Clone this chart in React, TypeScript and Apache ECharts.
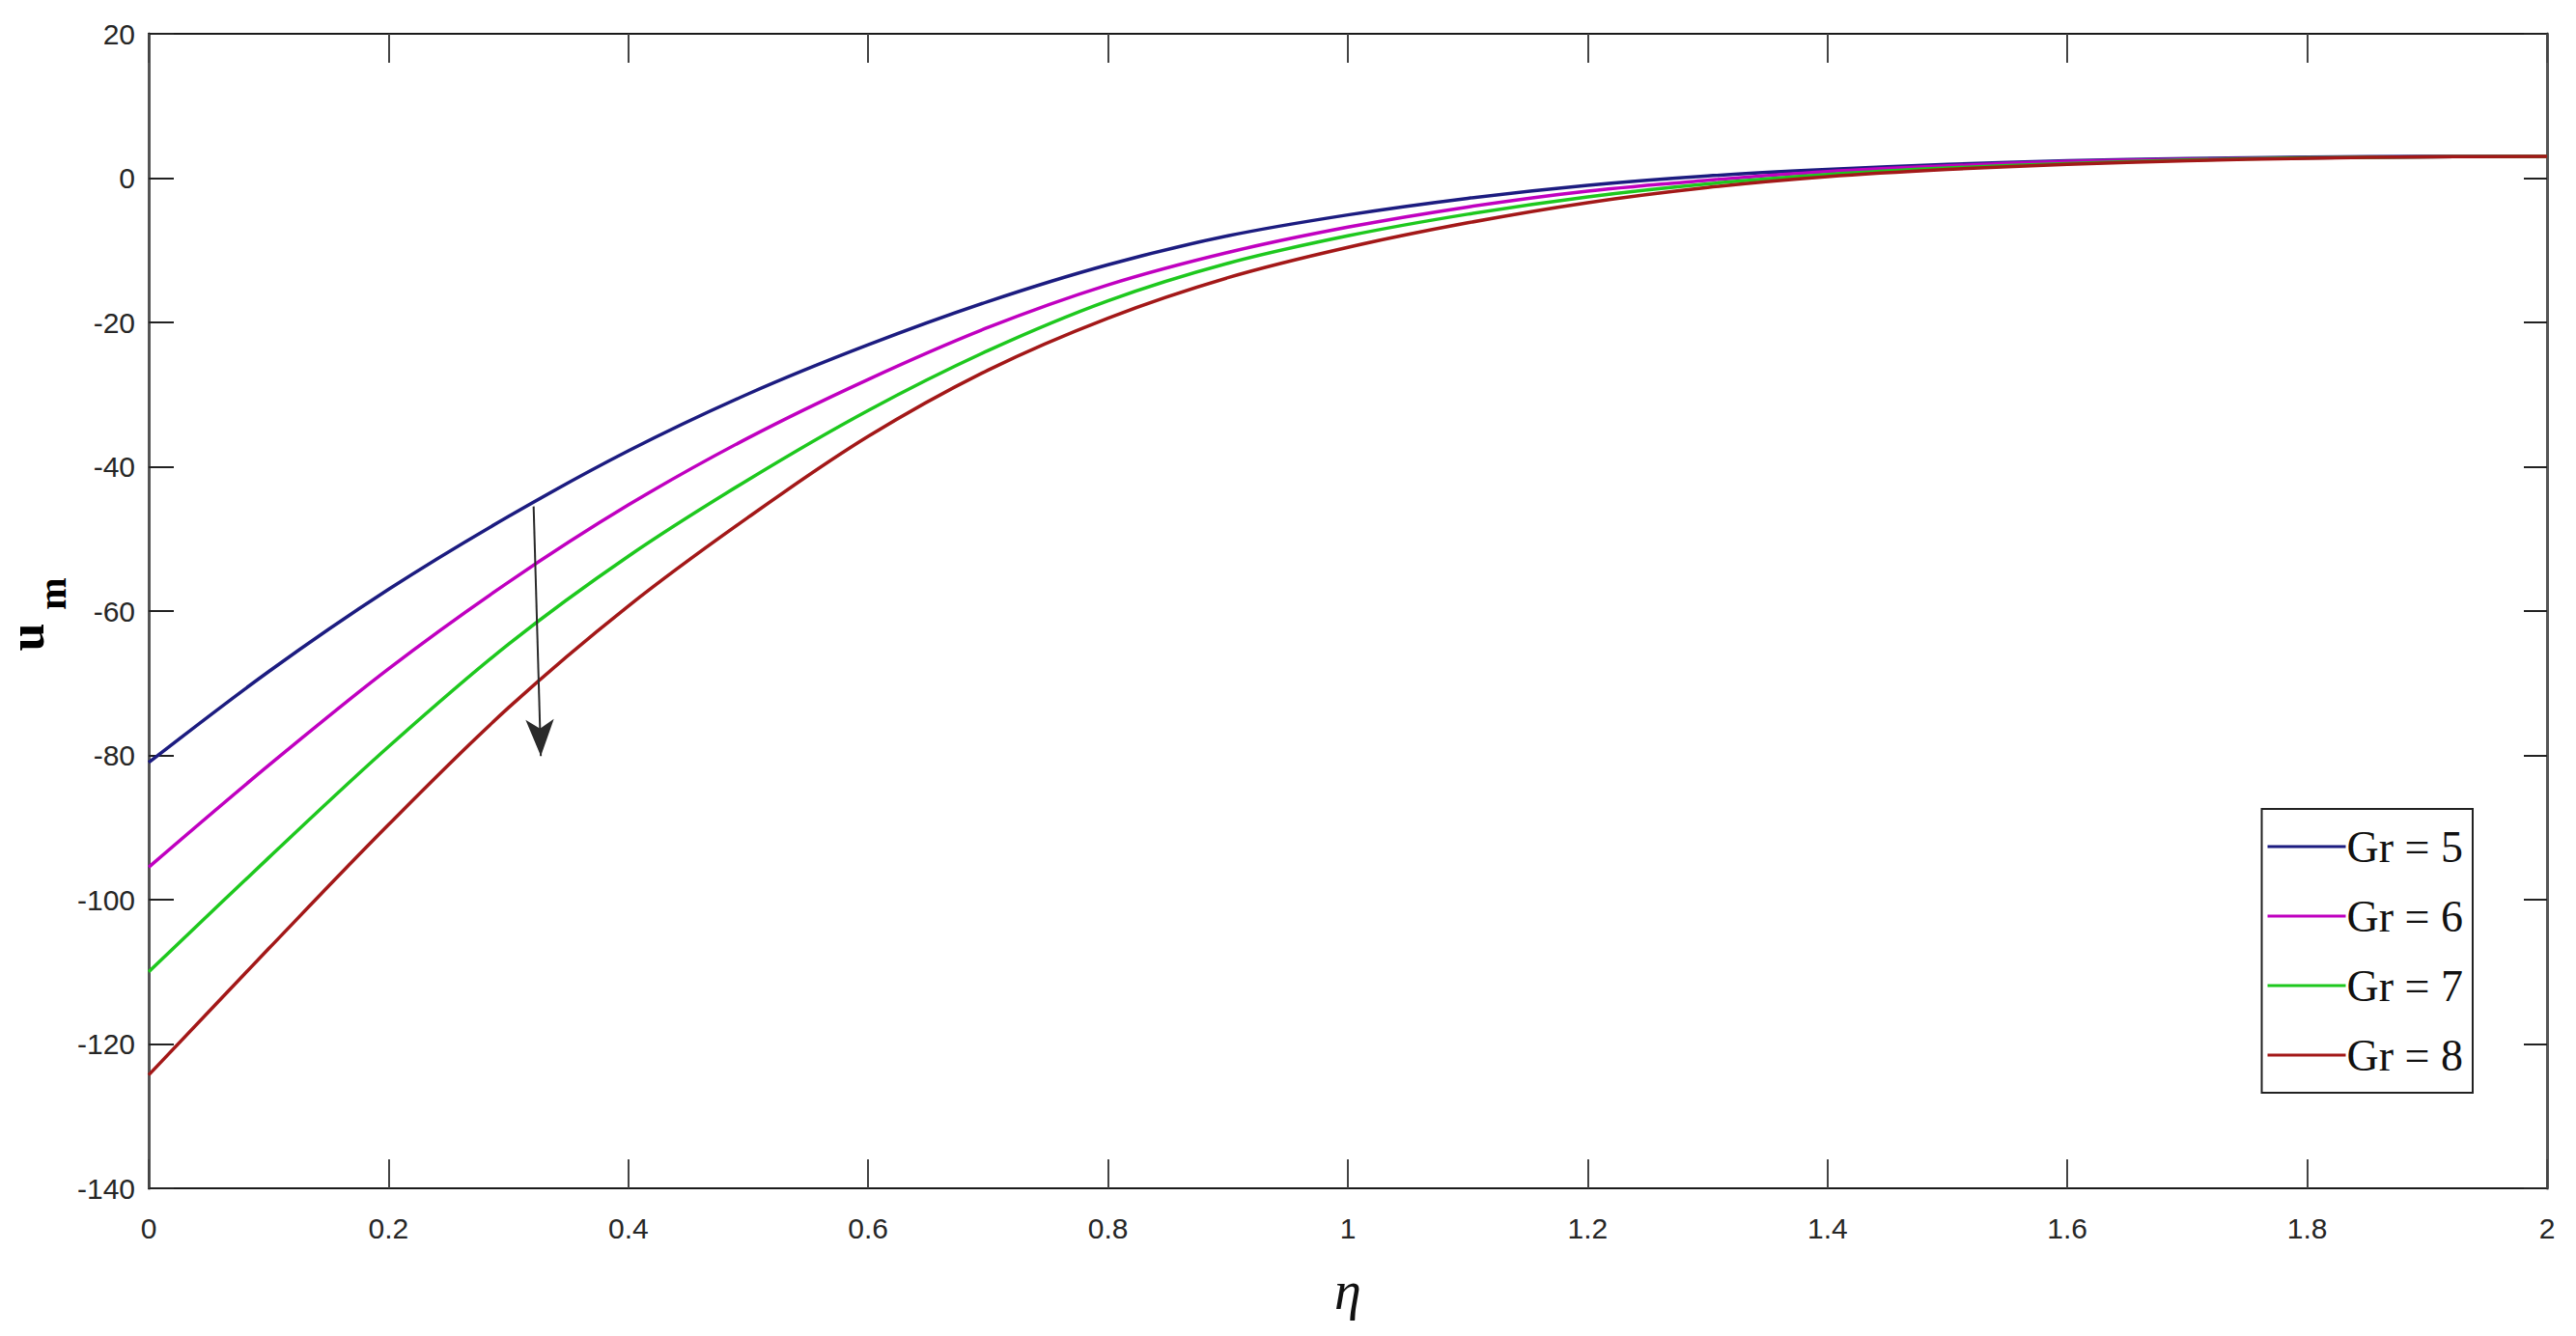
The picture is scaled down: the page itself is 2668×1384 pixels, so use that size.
import React, { useEffect, useRef } from "react";
import * as echarts from "echarts";

const eta = [0, 0.1, 0.2, 0.3, 0.4, 0.5, 0.6, 0.7, 0.8, 0.9, 1.0, 1.1, 1.2, 1.3, 1.4, 1.5, 1.6, 1.7, 1.8, 1.9, 2.0];
const gr5 = [-81, -68.4, -57.0, -46.9, -37.8, -29.9, -23.1, -17.1, -12.0, -8.0, -5.1, -2.8, -1.0, 0.3, 1.2, 1.9, 2.4, 2.7, 2.9, 3.0, 3.0];
const gr6 = [-95.5, -81.4, -68.0, -56.0, -45.3, -36.0, -27.9, -20.7, -14.8, -10.3, -6.8, -4.0, -1.8, -0.3, 0.9, 1.7, 2.3, 2.6, 2.8, 2.95, 3.0];
const gr7 = [-110, -94.2, -78.8, -64.6, -52.4, -41.8, -32.2, -23.9, -17.0, -11.8, -8.0, -5.0, -2.6, -0.8, 0.5, 1.4, 2.0, 2.5, 2.8, 2.95, 3.0];
const gr8 = [-124.3, -106.8, -89.6, -73.4, -59.3, -47.0, -35.8, -26.6, -19.4, -13.8, -9.6, -6.2, -3.4, -1.3, 0.2, 1.2, 1.9, 2.4, 2.75, 2.95, 3.0];
const seriesNames = ["Gr = 5", "Gr = 6", "Gr = 7", "Gr = 8"];
const seriesColors = ["#1c1c80", "#c000c0", "#1ec81e", "#a31818"];
const arrowStart = [0.321, -45.5];
const arrowEnd = [0.327, -80.1];

const tickFont = "'Liberation Sans Narrow', 'Arial Narrow', 'Liberation Sans', Arial, sans-serif";

export default function App() {
  const ref = useRef<HTMLDivElement>(null);
  useEffect(() => {
    if (!ref.current) return;
    const chart = echarts.init(ref.current, undefined, { renderer: "svg" });
    const allSeries = [gr5, gr6, gr7, gr8];
    const series: any[] = allSeries.map((vals, i) => ({
      name: seriesNames[i],
      type: "line",
      data: eta.map((x, j) => [x, vals[j]]),
      smooth: 0.35,
      showSymbol: false,
      symbol: "none",
      lineStyle: { color: seriesColors[i], width: 3.5 },
      itemStyle: { color: seriesColors[i] },
      emphasis: { disabled: true },
      z: 3,
    }));
    series[0].markLine = {
      silent: true,
      symbol: ["none", "arrow"],
      symbolSize: [22, 38],
      label: { show: false },
      lineStyle: { color: "#2a2a2a", width: 2, type: "solid" },
      emphasis: { disabled: true },
      data: [[{ coord: arrowStart }, { coord: arrowEnd }]],
    };
    const axisLineStyle = { color: "#1a1a1a", width: 2 };
    chart.setOption({
      animation: false,
      backgroundColor: "#ffffff",
      grid: { left: 154, top: 35, right: 30, bottom: 153, containLabel: false },
      legend: {
        orient: "vertical",
        right: 107,
        top: 838,
        padding: [16, 10, 16, 6],
        itemWidth: 81,
        itemHeight: 3,
        itemGap: 26,
        backgroundColor: "#ffffff",
        borderColor: "#222222",
        borderWidth: 2,
        borderRadius: 0,
        selectedMode: false,
        textStyle: {
          fontFamily: "'Liberation Serif', 'Times New Roman', serif",
          fontSize: 46,
          lineHeight: 46,
          color: "#111111",
          padding: [0, 0, 0, -4],
        },
        data: seriesNames.map((n) => ({ name: n, icon: "rect" })),
      },
      xAxis: [
        {
          type: "value",
          min: 0,
          max: 2,
          interval: 0.2,
          position: "bottom",
          name: "η",
          nameLocation: "middle",
          nameGap: 78,
          nameTextStyle: {
            fontFamily: "'Liberation Serif', 'Times New Roman', serif",
            fontStyle: "italic",
            fontSize: 56,
            color: "#111111",
          },
          axisLine: { show: true, onZero: false, lineStyle: axisLineStyle },
          axisTick: { show: true, inside: true, length: 30, lineStyle: { color: "#444", width: 2 } },
          axisLabel: { margin: 26, fontFamily: tickFont, fontSize: 30, color: "#262626" },
          splitLine: { show: false },
        },
        {
          type: "value",
          min: 0,
          max: 2,
          interval: 0.2,
          position: "top",
          axisLine: { show: true, onZero: false, lineStyle: axisLineStyle },
          axisTick: { show: true, inside: true, length: 30, lineStyle: { color: "#444", width: 2 } },
          axisLabel: { show: false },
          splitLine: { show: false },
        },
      ],
      yAxis: [
        {
          type: "value",
          min: -140,
          max: 20,
          interval: 20,
          position: "left",
          axisLine: { show: true, onZero: false, lineStyle: { color: "#555", width: 3 } },
          axisTick: { show: true, inside: true, length: 26, lineStyle: { color: "#222", width: 2 } },
          axisLabel: { margin: 14, fontFamily: tickFont, fontSize: 30, color: "#262626" },
          splitLine: { show: false },
        },
        {
          type: "value",
          min: -140,
          max: 20,
          interval: 20,
          position: "right",
          axisLine: { show: true, onZero: false, lineStyle: { color: "#555", width: 3 } },
          axisTick: { show: true, inside: true, length: 24, lineStyle: { color: "#222", width: 2 } },
          axisLabel: { show: false },
          splitLine: { show: false },
        },
      ],
      graphic: [
        {
          type: "text",
          x: 27,
          y: 660,
          rotation: Math.PI / 2,
          style: {
            text: "u",
            font: "bold 52px 'Liberation Serif', 'Times New Roman', serif",
            fill: "#000000",
            textAlign: "center",
            textVerticalAlign: "middle",
          },
        },
        {
          type: "text",
          x: 54,
          y: 615,
          rotation: Math.PI / 2,
          style: {
            text: "m",
            font: "bold 40px 'Liberation Serif', 'Times New Roman', serif",
            fill: "#000000",
            textAlign: "center",
            textVerticalAlign: "middle",
          },
        },
      ],
      series,
    });
    return () => chart.dispose();
  }, []);
  return (
    <div
      ref={ref}
      style={{ position: "fixed", left: 0, top: 0, width: 2668, height: 1384, background: "#fff" }}
    />
  );
}
